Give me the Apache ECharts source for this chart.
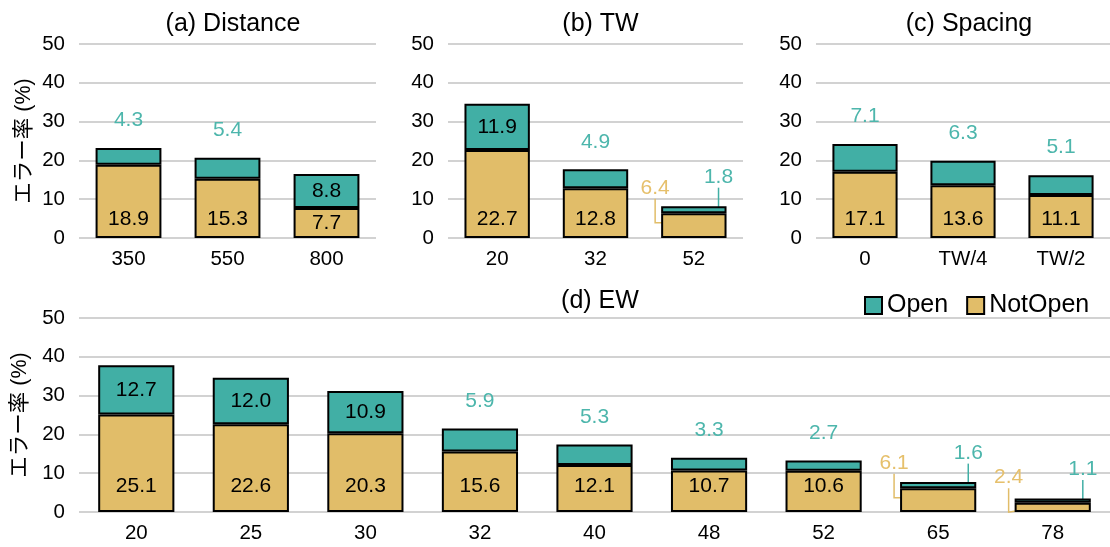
<!DOCTYPE html>
<html>
<head>
<meta charset="utf-8">
<script src="https://cdn.jsdelivr.net/npm/echarts@6/dist/echarts.min.js"></script>
<style>
  html, body { margin: 0; padding: 0; background: #fff; }
  #chart { width: 1110px; height: 547px; }
</style>
</head>
<body>
<div id="chart"></div>
<script>
// Error rates (%) per condition, split into Open / NotOpen errors
const distanceCats = ['350', '550', '800'];
const distanceNotOpen = [18.9, 15.3, 7.7];
const distanceOpen = [4.3, 5.4, 8.8];

const twCats = ['20', '32', '52'];
const twNotOpen = [22.7, 12.8, 6.4];
const twOpen = [11.9, 4.9, 1.8];

const spacingCats = ['0', 'TW/4', 'TW/2'];
const spacingNotOpen = [17.1, 13.6, 11.1];
const spacingOpen = [7.1, 6.3, 5.1];

const ewCats = ['20', '25', '30', '32', '40', '48', '52', '65', '78'];
const ewNotOpen = [25.1, 22.6, 20.3, 15.6, 12.1, 10.7, 10.6, 6.1, 2.4];
const ewOpen = [12.7, 12.0, 10.9, 5.9, 5.3, 3.3, 2.7, 1.6, 1.1];

const yMin = 0, yMax = 50, yStep = 10;
const panelTitles = ['(a) Distance', '(b) TW', '(c) Spacing', '(d) EW'];
const yAxisName = 'エラー率 (%)';
const seriesNames = ['Open', 'NotOpen'];

const TEAL = '#41afa5';
const TAN = '#e1bd69';
const TEAL_TEXT = '#4db6ac';
const TAN_TEXT = '#e6c06c';
const FONT = "'Liberation Sans', 'Noto Sans CJK JP', Arial, sans-serif";

const panels = [
  { cats: distanceCats, notOpen: distanceNotOpen, open: distanceOpen,
    grid: { left: 79, top: 44, width: 297, height: 194 }, titleX: 228, titleTop: 7, yName: true, bottomGap: 8 },
  { cats: twCats, notOpen: twNotOpen, open: twOpen,
    grid: { left: 448, top: 44, width: 295, height: 194 }, titleX: 595.5, titleTop: 7, yName: false, bottomGap: 8 },
  { cats: spacingCats, notOpen: spacingNotOpen, open: spacingOpen,
    grid: { left: 816, top: 44, width: 296, height: 194 }, titleX: 964, titleTop: 7, yName: false, bottomGap: 8 },
  { cats: ewCats, notOpen: ewNotOpen, open: ewOpen,
    grid: { left: 79, top: 318, width: 1031, height: 194 }, titleX: 595, titleTop: 284, yName: true, bottomGap: 15 }
];

const fmt = v => v.toFixed(1);
const labelFont = { fontSize: 21, fontFamily: FONT };

// labels pulled out of a short bar with a guide line: calloutKind[seriesIndex][dataIndex]
const calloutKind = {};

const grids = [], xAxes = [], yAxes = [], titles = [], series = [];

panels.forEach((p, i) => {
  grids.push(Object.assign({ containLabel: false }, p.grid));
  titles.push({
    text: panelTitles[i], left: p.titleX, top: p.titleTop, textAlign: 'center',
    textStyle: { fontSize: 25, fontWeight: 'normal', color: '#000', fontFamily: FONT }
  });
  xAxes.push({
    type: 'category', gridIndex: i, data: p.cats,
    axisLine: { show: false }, axisTick: { show: false },
    axisLabel: { fontSize: 20.5, color: '#000', margin: 11, fontFamily: FONT }
  });
  yAxes.push({
    type: 'value', gridIndex: i, min: yMin, max: yMax, interval: yStep,
    name: p.yName ? yAxisName : '', nameLocation: 'middle', nameGap: 44,
    nameTextStyle: { fontSize: 21.5, color: '#000', fontFamily: FONT },
    axisLine: { show: false }, axisTick: { show: false },
    axisLabel: { fontSize: 20.5, color: '#000', margin: 14, fontFamily: FONT },
    splitLine: { lineStyle: { color: '#d2d2d2', width: 2 } }
  });

  const notIdx = series.length;
  const openIdx = notIdx + 1;
  calloutKind[notIdx] = {};
  calloutKind[openIdx] = {};

  const notData = p.notOpen.map((v, k) => {
    if (v >= 7) {
      return { value: v, label: { position: v >= 10 ? 'insideBottom' : 'inside', distance: p.bottomGap, color: '#000' } };
    }
    calloutKind[notIdx][k] = 'tan';
    return {
      value: v,
      label: { position: 'inside', color: TAN_TEXT },
      labelLine: { show: true, length2: 24, lineStyle: { color: TAN, width: 1.5 } }
    };
  });

  const openData = p.open.map((v, k) => {
    if (v >= 8) {
      return { value: v, label: { position: 'inside', color: '#000' } };
    }
    if (p.notOpen[k] < 7) {
      calloutKind[openIdx][k] = 'teal';
      return {
        value: v,
        label: { position: 'inside', color: TEAL_TEXT },
        labelLine: { show: true, length2: 0, lineStyle: { color: TEAL, width: 1.5 } }
      };
    }
    return { value: v, label: { position: 'top', distance: 17, color: TEAL_TEXT } };
  });

  const common = {
    type: 'bar', stack: 'panel' + i, xAxisIndex: i, yAxisIndex: i,
    barWidth: '66.5%',
    label: Object.assign({ show: true, formatter: d => fmt(d.value) }, labelFont),
    emphasis: { disabled: true },
    labelLayout: function (prm) {
      const kind = calloutKind[prm.seriesIndex] && calloutKind[prm.seriesIndex][prm.dataIndex];
      const r = prm.rect;
      if (kind === 'tan') {
        return { x: r.x - 6, y: r.y - 25, align: 'center', verticalAlign: 'middle' };
      }
      if (kind === 'teal') {
        return { x: r.x + r.width - 8, y: r.y - 29, align: 'center', verticalAlign: 'middle' };
      }
      return {};
    }
  };

  series.push(Object.assign({}, common, { name: 'NotOpen', data: notData, itemStyle: { color: TAN, borderColor: '#000', borderWidth: 2 } }));
  series.push(Object.assign({}, common, { name: 'Open', data: openData, itemStyle: { color: TEAL, borderColor: '#000', borderWidth: 2 } }));
});

const chart = echarts.init(document.getElementById('chart'), null, { renderer: 'canvas' });
chart.setOption({
  animation: false,
  backgroundColor: '#fff',
  textStyle: { fontFamily: FONT },
  title: titles,
  grid: grids,
  xAxis: xAxes,
  yAxis: yAxes,
  legend: {
    data: seriesNames, left: 859, top: 288,
    itemWidth: 17, itemHeight: 17, itemGap: 18,
    icon: 'rect',
    itemStyle: { borderColor: '#000', borderWidth: 2 },
    textStyle: { fontSize: 25, color: '#000', fontFamily: FONT }
  },
  tooltip: { show: false },
  series: series
});
</script>
</body>
</html>
